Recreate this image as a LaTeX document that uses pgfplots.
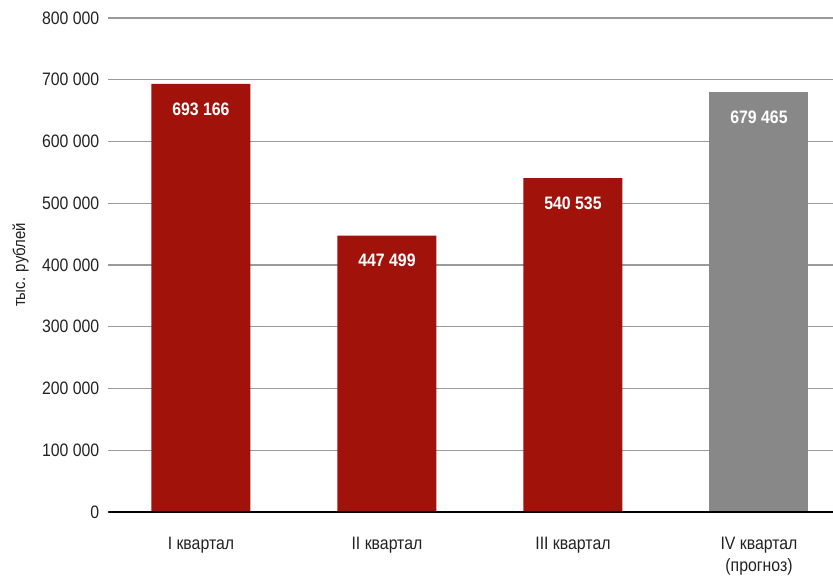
\documentclass[border=0pt]{standalone}
\usepackage{fontspec}
\setmainfont{Liberation Sans}[FakeStretch=0.88]
\usepackage{pgfplots}
\pgfplotsset{compat=1.18}
\definecolor{barred}{HTML}{A0120A}
\definecolor{bargray}{HTML}{888888}
\definecolor{gridc}{HTML}{9A9A9A}
\definecolor{txt}{HTML}{222222}
\begin{document}
\begin{tikzpicture}
\begin{axis}[
  name=ax, at={(0,0)}, anchor=south west,
  scale only axis, width=724.5pt, height=494pt,
  xmin=-0.497, xmax=3.398, ymin=0, ymax=800000,
  axis line style={draw=none},
  ytick={0,100000,...,800000},
  ymajorgrids, grid style={gridc, line width=1.4pt},
  major tick length=0pt,
  scaled y ticks=false,
  /pgf/number format/.cd, fixed, precision=0, 1000 sep={\ }, assume math mode=true,
  /pgfplots/.cd,
  yticklabel style={font=\fontsize{18}{20}\selectfont, text=txt, inner sep=0pt, xshift=-9pt},
  xtick={0,1,2,3},
  xticklabels={I квартал, II квартал, III квартал, IV квартал\\(прогноз)},
  xticklabel style={font=\fontsize{18}{22}\selectfont, text=txt, inner sep=0pt, yshift=-25pt, align=center, anchor=north},
  ylabel={тыс. рублей},
  ylabel style={font=\fontsize{17}{18}\selectfont, text=txt, at={(rel axis cs:-0.1215,0.5)}, anchor=center},
  bar width=99pt,
  nodes near coords,
  every node near coord/.append style={font=\bfseries\fontsize{18}{20}\selectfont, text=white, anchor=center, yshift=-25pt},
]
\addplot[ybar, fill=barred, draw=none] coordinates {(0,693166) (1,447499) (2,540535)};
\addplot[ybar, fill=bargray, draw=none] coordinates {(3,679465)};
\draw[black, line width=1.5pt] (rel axis cs:0,0) -- (rel axis cs:1,0);
\end{axis}
\pgfresetboundingbox
\path (-108.5pt,-67pt) rectangle (724.5pt,512pt);
\end{tikzpicture}
\end{document}
